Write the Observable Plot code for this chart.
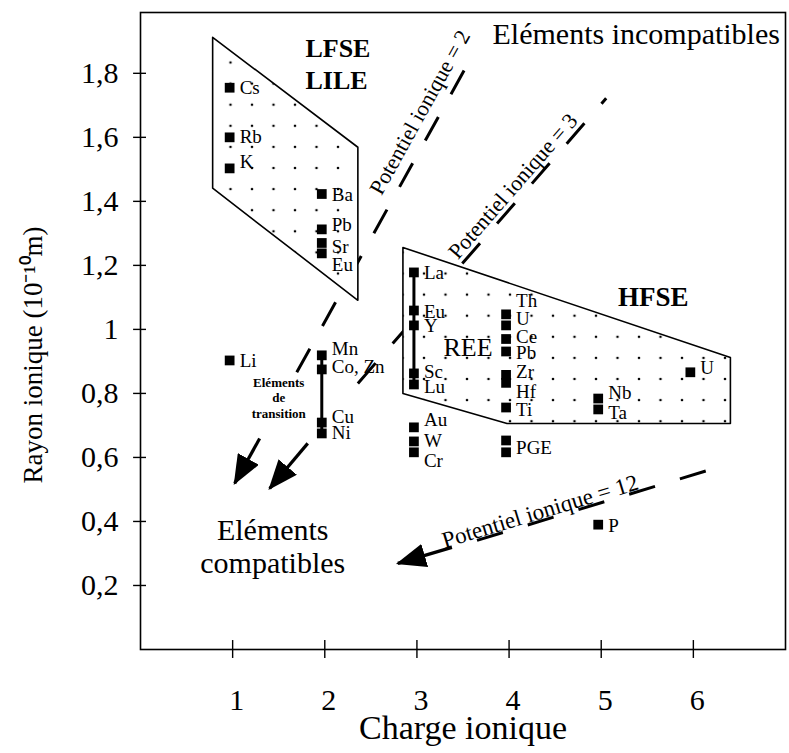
<!DOCTYPE html>
<html>
<head>
<meta charset="utf-8">
<script src="https://cdn.jsdelivr.net/npm/d3@7"></script>
<script src="https://cdn.jsdelivr.net/npm/@observablehq/plot@0.6"></script>
<style>
  body { margin: 0; background: #fff; }
</style>
</head>
<body>
<div id="chart"></div>
<script>
// ---------- data ----------
const xTicks = [1, 2, 3, 4, 5, 6];
const xTickLabels = ["1", "2", "3", "4", "5", "6"];
const yTicks = [0.2, 0.4, 0.6, 0.8, 1, 1.2, 1.4, 1.6, 1.8];
const yTickLabels = ["0,2", "0,4", "0,6", "0,8", "1", "1,2", "1,4", "1,6", "1,8"];

const elementNames   = ["Cs","Rb","K","Li","Ba","Pb","Sr","Eu","Mn","Co, Zn","Cu","Ni","La","Eu","Y","Sc","Lu","Au","W","Cr","Th","U","Ce","Pb","Zr","Hf","Ti","PGE","","Nb","Ta","P","U"];
const elementCharges = [1,1,1,1,2,2,2,2,2,2,2,2,3,3,3,3,3,3,3,3,4,4,4,4,4,4,4,4,4,5,5,5,6];
const elementRadii   = [1.755,1.60,1.503,0.903,1.423,1.3125,1.27,1.2375,0.919,0.875,0.709,0.675,1.178,1.059,1.0125,0.8625,0.828,0.694,0.65,0.616,1.047,1.0125,0.97,0.931,0.858,0.833,0.756,0.653,0.616,0.784,0.75,0.39,0.866];
const labelRadii     = [1.755,1.60,1.522,0.903,1.42,1.328,1.259,1.203,0.9375,0.884,0.728,0.678,1.178,1.056,1.01,0.868,0.82,0.716,0.653,0.59,1.0875,1.034,0.975,0.928,0.866,0.806,0.75,0.631,null,0.803,0.74,0.387,0.88];

// vertical connectors (transition elements, REE series)
const connectorCharges = [2, 3];
const connectorTop     = [0.919, 1.178];
const connectorBottom  = [0.675, 0.828];

// fields (polygons)
const polygonGroups  = ["LFSE","LFSE","LFSE","LFSE","HFSE","HFSE","HFSE","HFSE","HFSE"];
const polygonCharges = [0.783, 2.359, 2.359, 0.783, 2.848, 6.402, 6.402, 3.978, 2.848];
const polygonRadii   = [1.9125, 1.569, 1.091, 1.441, 1.256, 0.9125, 0.706, 0.706, 0.80];

// iso-ionic-potential dashed lines
const potentialNames = ["2", "3", "12"];
const potentialZ1 = [1.696, 2.359, 3.652];
const potentialR1 = [0.866, 0.831, 0.341];
const potentialZ2 = [3.543, 5.054, 6.152];
const potentialR2 = [1.825, 1.722, 0.559];
const potentialLabels = ["Potentiel ionique = 2", "Potentiel ionique = 3", "Potentiel ionique = 12"];
const potentialLabelZ = [3.033, 4.043, 4.337];
const potentialLabelR = [1.678, 1.447, 0.431];

// arrows towards compatible elements
const arrowZ1 = [1.293, 1.815, 3.380];
const arrowR1 = [0.659, 0.644, 0.319];
const arrowZ2 = [1.022, 1.402, 2.793];
const arrowR2 = [0.519, 0.503, 0.269];

// annotations
const fieldNames = ["LFSE", "LILE", "HFSE"];
const fieldZ = [1.79, 1.79, 5.565];
const fieldR = [1.878, 1.778, 1.10];
const noteTexts = ["Eléments incompatibles", "Eléments\ncompatibles", "REE"];
const noteZ = [5.38, 1.435, 3.554];
const noteR = [1.925, 0.325, 0.944];
const transitionText = ["Eléments\nde\ntransition"];
const transitionZ = [1.5];
const transitionR = [0.7875];
const xLabel = ["Charge ionique"];
const yLabel = ["Rayon ionique (10\u207B\u00B9\u2070m)"];
const yLabelZ = [-1.165];
const yLabelR = [0.92];

// ---------- tables ----------
const elements = elementNames.map((name, i) => ({name, z: elementCharges[i], r: elementRadii[i], lr: labelRadii[i]}));
const connectors = connectorCharges.map((z, i) => ({z, r1: connectorTop[i], r2: connectorBottom[i]}));
const polygon = polygonGroups.map((g, i) => ({g, z: polygonCharges[i], r: polygonRadii[i]}));
const potentials = potentialNames.map((n, i) => ({n, z1: potentialZ1[i], r1: potentialR1[i], z2: potentialZ2[i], r2: potentialR2[i]}));
const arrows = arrowZ1.map((z1, i) => ({z1, r1: arrowR1[i], z2: arrowZ2[i], r2: arrowR2[i]}));

// ---------- layout ----------
const W = 789, H = 753, ML = 140, MR = 4, MT = 12, MB = 104;
const xDomain = [0, 7], yDomain = [0, 1.99];
const kx = (W - ML - MR) / (xDomain[1] - xDomain[0]);
const ky = (H - MT - MB) / (yDomain[1] - yDomain[0]);
const angleOf = p => -Math.atan2((p.r2 - p.r1) * ky, (p.z2 - p.z1) * kx) * 180 / Math.PI;

const FONT = "Liberation Serif, Times New Roman, serif";

const marks = [
  Plot.frame({stroke: "black", strokeWidth: 1.6}),
  // ticks crossing the axes
  Plot.ruleY(yTicks, {y: d => d, x1: -0.075, x2: 0.065, stroke: "black", strokeWidth: 1.4}),
  Plot.ruleX(xTicks, {x: d => d, y1: -0.028, y2: 0.028, stroke: "black", strokeWidth: 1.4}),
  Plot.text(yTicks, {x: 0, y: d => d, text: (d, i) => yTickLabels[i], textAnchor: "end", dx: -22, fontSize: 30, fontFamily: FONT, fill: "black"}),
  Plot.text(xTicks, {x: d => d, y: 0, text: (d, i) => xTickLabels[i], dx: 4, dy: 51, fontSize: 30, fontFamily: FONT, fill: "black"}),
  Plot.text(xLabel, {frameAnchor: "bottom", text: d => d, dy: 89, fontSize: 34, fontFamily: FONT, fill: "black"}),
  Plot.text(yLabel, {x: (d, i) => yLabelZ[i], y: (d, i) => yLabelR[i], text: d => d, rotate: -90, fontSize: 27, fontFamily: FONT, fill: "black"}),
  // dashed iso-potential lines
  Plot.link(potentials, {x1: "z1", y1: "r1", x2: "z2", y2: "r2", stroke: "black", strokeWidth: 3, strokeDasharray: "27,26"}),
  // fields
  Plot.line(polygon, {x: "z", y: "r", z: "g", curve: "linear-closed", fill: "url(#dots)", stroke: "black", strokeWidth: 1.6}),
  // arrows (shafts; heads are added as SVG markers below)
  Plot.link(arrows, {x1: "z1", y1: "r1", x2: "z2", y2: "r2", stroke: "black", strokeWidth: 3.2}),
  // connectors & squares
  Plot.ruleX(connectors, {x: "z", y1: "r1", y2: "r2", dx: -3, stroke: "black", strokeWidth: 3}),
  Plot.dot(elements, {x: "z", y: "r", dx: -3, symbol: "square", r: 5.5, fill: "black", stroke: "none"}),
  Plot.text(elements.filter(d => d.name), {x: "z", y: "lr", text: "name", dx: 7, textAnchor: "start", fontSize: 19, fontFamily: FONT, fill: "black"}),
  // potential labels
  Plot.text(potentialLabels, {x: (d, i) => potentialLabelZ[i], y: (d, i) => potentialLabelR[i], text: d => d,
    rotate: (d, i) => angleOf(potentials[i]), fontSize: (d, i) => (i === 2 ? 23 : 22), fontFamily: FONT, fill: "black"}),
  // field titles
  Plot.text(fieldNames.slice(0, 2), {x: (d, i) => fieldZ[i], y: (d, i) => fieldR[i], text: d => d, textAnchor: "start", fontSize: 26, fontWeight: "bold", fontFamily: FONT, fill: "black"}),
  Plot.text(fieldNames.slice(2), {x: (d, i) => fieldZ[2 + i], y: (d, i) => fieldR[2 + i], text: d => d, fontSize: 27, fontWeight: "bold", fontFamily: FONT, fill: "black"}),
  Plot.text(noteTexts.slice(0, 2), {x: (d, i) => noteZ[i], y: (d, i) => noteR[i], text: d => d, fontSize: 30, lineHeight: 1.1, fontFamily: FONT, fill: "black"}),
  Plot.text(noteTexts.slice(2), {x: (d, i) => noteZ[2 + i], y: (d, i) => noteR[2 + i], text: d => d, fontSize: 26, fontFamily: FONT, fill: "black"}),
  Plot.text(transitionText, {x: (d, i) => transitionZ[i], y: (d, i) => transitionR[i], text: d => d, fontSize: 13, fontWeight: "bold", lineHeight: 1.2, fontFamily: FONT, fill: "black"})
];

const chart = Plot.plot({
  width: W,
  height: H,
  marginLeft: ML,
  marginRight: MR,
  marginTop: MT,
  marginBottom: MB,
  x: {domain: xDomain, axis: null},
  y: {domain: yDomain, axis: null},
  style: {fontFamily: FONT, background: "white", color: "black", overflow: "visible"},
  marks
});

// pattern fill for the fields and filled arrow heads
const ns = "http://www.w3.org/2000/svg";
function el(tag, attrs, parent) {
  const e = document.createElementNS(ns, tag);
  for (const k in attrs) e.setAttribute(k, attrs[k]);
  if (parent) parent.appendChild(e);
  return e;
}
const defs = el("defs", {});
const pat = el("pattern", {id: "dots", patternUnits: "userSpaceOnUse", x: 219.25, y: 51.45, width: 21.5, height: 21.1}, defs);
el("rect", {width: 21.5, height: 21.1, fill: "white"}, pat);
el("circle", {cx: 10.75, cy: 10.55, r: 1.3, fill: "black"}, pat);
const mk = el("marker", {id: "ahead", viewBox: "0 0 30 24", refX: 28, refY: 12, markerUnits: "userSpaceOnUse", markerWidth: 30, markerHeight: 24, orient: "auto"}, defs);
el("path", {d: "M0,0L30,12L0,24Z", fill: "black", stroke: "none"}, mk);
chart.insertBefore(defs, chart.firstChild);
chart.querySelectorAll('g[stroke-width="3.2"] path, g[stroke-width="3.2"] line').forEach(p => p.setAttribute("marker-end", "url(#ahead)"));

document.getElementById("chart").appendChild(chart);
</script>
</body>
</html>
